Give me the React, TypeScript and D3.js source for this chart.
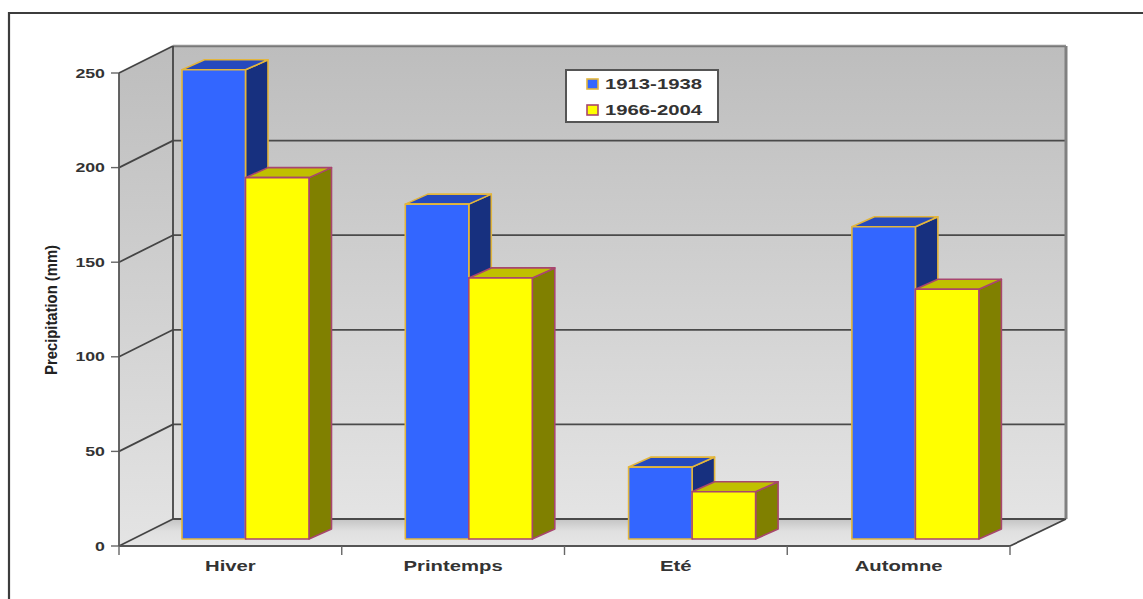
import React from "react";
import * as d3 from "d3";

const seasons = ["Hiver", "Printemps", "Eté", "Automne"];
const period1Label = "1913-1938";
const period2Label = "1966-2004";
const period1Values = [248, 177, 38, 165];
const period2Values = [191, 138, 25, 132];
const valueTicks = [0, 50, 100, 150, 200, 250];
const axisTitle = "Precipitation (mm)";

const FONT = "'Liberation Sans', Arial, sans-serif";

// Oblique projection: the back wall sits up and to the right of the front plane.
const wallDx = 54;
const wallRightDx = 56;
const wallDy = -27;
const barDx = 22.5;
const barDy = -10;
const barInsetX = 63;
const barInsetY = -7;
const barWidth = 63.5;

const x = d3.scaleBand<string>().domain(seasons).range([119, 1010]);
const barBand = d3.scaleBand<string>().domain(seasons).range([119, 1012.2]);
const y = d3.scaleLinear().domain([0, 250]).range([546, 73]);

type BarColors = { front: string; top: string; side: string; edge: string };
const period1Colors: BarColors = { front: "#3366ff", top: "#2549bd", side: "#17307f", edge: "#e3b63c" };
const period2Colors: BarColors = { front: "#ffff00", top: "#c0c000", side: "#808000", edge: "#a8466e" };

const poly = (pts: [number, number][]) => pts.map((p) => p.join(",")).join(" ");

function Bar({ x0, value, colors }: { x0: number; value: number; colors: BarColors }) {
  const base = y(0) + barInsetY;
  const top = y(value) + barInsetY;
  const x1 = x0 + barWidth;
  const common = { stroke: colors.edge, strokeWidth: 1.6, strokeLinejoin: "round" as const };
  return (
    <g>
      <polygon
        points={poly([[x1, base], [x1 + barDx, base + barDy], [x1 + barDx, top + barDy], [x1, top]])}
        fill={colors.side}
        {...common}
      />
      <polygon
        points={poly([[x0, top], [x0 + barDx, top + barDy], [x1 + barDx, top + barDy], [x1, top]])}
        fill={colors.top}
        {...common}
      />
      <rect x={x0} y={top} width={barWidth} height={base - top} fill={colors.front} {...common} />
    </g>
  );
}

// Bold label stretched horizontally, as the exported chart font was rendered wide.
function WideText({
  px,
  py,
  anchor,
  size,
  sx,
  children,
}: {
  px: number;
  py: number;
  anchor: "start" | "middle" | "end";
  size: number;
  sx: number;
  children: React.ReactNode;
}) {
  return (
    <text
      transform={`translate(${px},${py}) scale(${sx},1)`}
      textAnchor={anchor}
      fontFamily={FONT}
      fontWeight={700}
      fontSize={size}
      fill="#333"
    >
      {children}
    </text>
  );
}

export default function App() {
  const [left, right] = x.range();
  const y0 = y(0);
  const yMax = y(250);
  const step = x.step();
  const edges = d3.range(seasons.length + 1).map((i) => left + i * step);
  const line = { stroke: "#444", strokeWidth: 1.8 };
  const backLeft = left + wallDx;
  const backRight = right + wallRightDx;

  return (
    <svg
      width={1143}
      height={599}
      style={{ position: "fixed", left: 0, top: 0, background: "#fff" }}
    >
      <defs>
        <linearGradient id="wallShade" x1="0" y1="0" x2="0" y2="1">
          <stop offset="0" stopColor="#bdbdbd" />
          <stop offset="1" stopColor="#e4e4e4" />
        </linearGradient>
        <linearGradient id="floorShade" x1="0" y1="0" x2="0" y2="1">
          <stop offset="0" stopColor="#c4c4c4" />
          <stop offset="0.45" stopColor="#e0e0e0" />
          <stop offset="1" stopColor="#e6e6e6" />
        </linearGradient>
      </defs>

      {/* page frame */}
      <path d="M1143,13 H9 V599" fill="none" stroke="#3c3c3c" strokeWidth={2.2} />

      {/* walls and floor */}
      <rect
        x={backLeft}
        y={yMax + wallDy}
        width={backRight - backLeft}
        height={y0 - yMax}
        fill="url(#wallShade)"
      />
      <polygon
        points={poly([
          [left, yMax],
          [backLeft, yMax + wallDy],
          [backLeft, y0 + wallDy],
          [left, y0],
        ])}
        fill="url(#wallShade)"
      />
      <polygon
        points={poly([
          [left, y0],
          [backLeft, y0 + wallDy],
          [backRight, y0 + wallDy],
          [right, y0],
        ])}
        fill="url(#floorShade)"
      />

      {/* grid lines on both walls */}
      {valueTicks.map((t) => (
        <g key={t}>
          <line x1={left} y1={y(t)} x2={backLeft} y2={y(t) + wallDy} {...line} />
          <line
            x1={backLeft}
            y1={y(t) + wallDy}
            x2={backRight}
            y2={y(t) + wallDy}
            stroke="#4a4a4a"
            strokeWidth={t === 250 ? 2.4 : 1.8}
            strokeOpacity={t === 250 ? 0.6 : 1}
          />
          <line x1={left - 8} y1={y(t)} x2={left} y2={y(t)} stroke="#666" strokeWidth={1.4} />
          <WideText px={left - 14} py={y(t) + 4.5} anchor="end" size={12.5} sx={1.42}>
            {t}
          </WideText>
        </g>
      ))}

      <line x1={backLeft} y1={yMax + wallDy} x2={backLeft} y2={y0 + wallDy} {...line} />
      <line
        x1={backRight}
        y1={yMax + wallDy}
        x2={backRight}
        y2={y0 + wallDy}
        stroke="#808080"
        strokeWidth={3}
      />
      <line x1={left} y1={yMax} x2={left} y2={y0} stroke="#555" strokeWidth={1.8} />
      <line x1={right} y1={y0} x2={backRight} y2={y0 + wallDy} {...line} />
      <line x1={left} y1={y0} x2={right} y2={y0} stroke="#555" strokeWidth={2} />

      {/* category ticks */}
      {edges.map((e) => (
        <line key={e} x1={e} y1={y0} x2={e} y2={y0 + 9} stroke="#666" strokeWidth={1.4} />
      ))}

      {/* bars */}
      {seasons.map((s, i) => {
        const start = (barBand(s) as number) + barInsetX;
        return (
          <g key={s}>
            <Bar x0={start} value={period1Values[i]} colors={period1Colors} />
            <Bar x0={start + barWidth} value={period2Values[i]} colors={period2Colors} />
          </g>
        );
      })}

      {/* category labels */}
      {seasons.map((s) => (
        <WideText key={s} px={(x(s) as number) + step / 2} py={571} anchor="middle" size={14} sx={1.45}>
          {s}
        </WideText>
      ))}

      {/* vertical axis title */}
      <text
        transform="translate(57,310) rotate(-90) scale(1.14,1.22)"
        textAnchor="middle"
        fontFamily={FONT}
        fontWeight={700}
        fontSize={13}
        fill="#222"
      >
        {axisTitle}
      </text>

      {/* legend */}
      <rect x={566} y={70} width={152} height={52} fill="#fff" stroke="#555" strokeWidth={2} />
      {[
        { label: period1Label, colors: period1Colors, cy: 84 },
        { label: period2Label, colors: period2Colors, cy: 110 },
      ].map((d) => (
        <g key={d.label}>
          <rect
            x={587}
            y={d.cy - 5}
            width={11}
            height={10}
            fill={d.colors.front}
            stroke={d.colors.edge}
            strokeWidth={1.6}
          />
          <WideText px={605} py={d.cy + 5} anchor="start" size={14.5} sx={1.4}>
            {d.label}
          </WideText>
        </g>
      ))}
    </svg>
  );
}
